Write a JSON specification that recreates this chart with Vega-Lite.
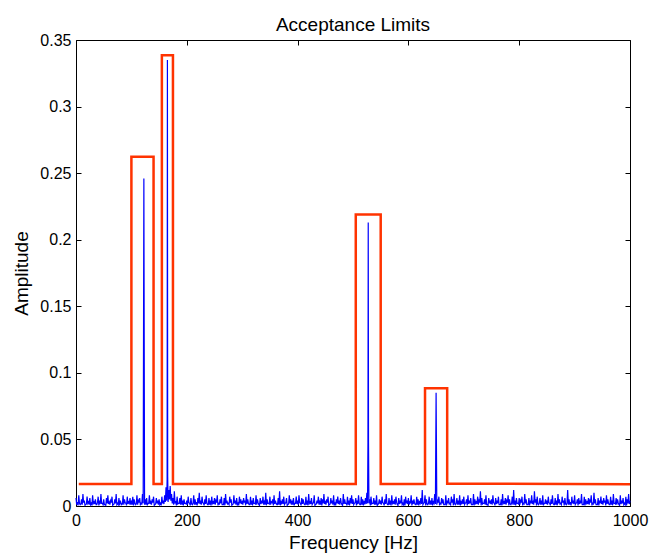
{
"$schema": "https://vega.github.io/schema/vega-lite/v6.json",
"width": 554, "height": 466,
"autosize": {"type": "none"},
"padding": {"left": 76, "top": 40, "right": 21, "bottom": 47},
"background": "white",
"title": {"text": "Acceptance Limits", "fontSize": 19, "font": "Liberation Sans", "fontWeight": "normal", "color": "black", "offset": 10, "baseline": "alphabetic", "anchor": "middle", "dy": 28},
"config": {
  "view": {"stroke": null},
  "axis": {"grid": false, "domainColor": "black", "tickColor": "black", "labelColor": "black", "titleColor": "black", "labelFont": "Liberation Sans", "titleFont": "Liberation Sans", "labelFontSize": 16, "titleFontSize": 19, "titleFontWeight": "normal", "tickSize": -5, "domainWidth": 1, "tickWidth": 1, "labelFlush": false, "labelOverlap": false}
},
"datasets": {
"spectrum": [
{"f":0,"a":0.006},{"f":1.25,"a":0.001},{"f":2.5,"a":0.003},{"f":3.75,"a":0.0005},{"f":5,"a":0.008},{"f":6.25,"a":0.002},{"f":7.5,"a":0.001},{"f":8.75,"a":0.0015},{"f":10,"a":0.005},{"f":11.25,"a":0.001},{"f":12.5,"a":0.009},{"f":13.75,"a":0.0025},{"f":15,"a":0.004},{"f":16.25,"a":0.0005},{"f":17.5,"a":0.001},{"f":18.75,"a":0.0015},{"f":20,"a":0.007},{"f":21.25,"a":0.002},{"f":22.5,"a":0.003},{"f":23.75,"a":0.001},{"f":25,"a":0.006},{"f":26.25,"a":0.001},{"f":27.5,"a":0.002},{"f":28.75,"a":0.0005},{"f":30,"a":0.008},{"f":31.25,"a":0.002},{"f":32.5,"a":0.003},{"f":33.75,"a":0.0015},{"f":35,"a":0.005},{"f":36.25,"a":0.001},{"f":37.5,"a":0.001},{"f":38.75,"a":0.0025},{"f":40,"a":0.007},{"f":41.25,"a":0.0005},{"f":42.5,"a":0.004},{"f":43.75,"a":0.0015},{"f":45,"a":0.009},{"f":46.25,"a":0.002},{"f":47.5,"a":0.002},{"f":48.75,"a":0.001},
{"f":50,"a":0.005},{"f":51.25,"a":0.001},{"f":52.5,"a":0.001},{"f":53.75,"a":0.0005},{"f":55,"a":0.006},{"f":56.25,"a":0.002},{"f":57.5,"a":0.008},{"f":58.75,"a":0.0015},{"f":60,"a":0.003},{"f":61.25,"a":0.001},{"f":62.5,"a":0.004},{"f":63.75,"a":0.0025},{"f":65,"a":0.007},{"f":66.25,"a":0.0005},{"f":67.5,"a":0.001},{"f":68.75,"a":0.0015},{"f":70,"a":0.005},{"f":71.25,"a":0.002},{"f":72.5,"a":0.009},{"f":73.75,"a":0.001},{"f":75,"a":0.002},{"f":76.25,"a":0.001},{"f":77.5,"a":0.006},{"f":78.75,"a":0.0005},{"f":80,"a":0.004},{"f":81.25,"a":0.002},{"f":82.5,"a":0.001},{"f":83.75,"a":0.0015},{"f":85,"a":0.008},{"f":86.25,"a":0.001},{"f":87.5,"a":0.005},{"f":88.75,"a":0.0025},{"f":90,"a":0.002},{"f":91.25,"a":0.0005},{"f":92.5,"a":0.007},{"f":93.75,"a":0.0015},{"f":95,"a":0.003},{"f":96.25,"a":0.002},{"f":97.5,"a":0.006},{"f":98.75,"a":0.001},
{"f":100,"a":0.003},{"f":101.25,"a":0.001},{"f":102.5,"a":0.007},{"f":103.75,"a":0.0005},{"f":105,"a":0.005},{"f":106.25,"a":0.002},{"f":107.5,"a":0.001},{"f":108.75,"a":0.0015},{"f":110,"a":0.008},{"f":111.25,"a":0.001},{"f":112.5,"a":0.004},{"f":113.75,"a":0.0025},{"f":115,"a":0.006},{"f":116.25,"a":0.0005},{"f":117.5,"a":0.002},{"f":118.75,"a":0.0015},{"f":120,"a":0.009},{"f":121.25,"a":0.002},{"f":122.5,"a":0.246},{"f":123.75,"a":0.001},{"f":125,"a":0.005},{"f":126.25,"a":0.001},{"f":127.5,"a":0.006},{"f":128.75,"a":0.0005},{"f":130,"a":0.002},{"f":131.25,"a":0.002},{"f":132.5,"a":0.008},{"f":133.75,"a":0.0015},{"f":135,"a":0.003},{"f":136.25,"a":0.001},{"f":137.5,"a":0.005},{"f":138.75,"a":0.0025},{"f":140,"a":0.007},{"f":141.25,"a":0.0005},{"f":142.5,"a":0.001},{"f":143.75,"a":0.0015},{"f":145,"a":0.006},{"f":146.25,"a":0.002},{"f":147.5,"a":0.004},{"f":148.75,"a":0.001},
{"f":150,"a":0.005},{"f":151.25,"a":0.001},{"f":152.5,"a":0.002},{"f":153.75,"a":0.0005},{"f":155,"a":0.007},{"f":156.25,"a":0.002},{"f":157.5,"a":0.004},{"f":158.75,"a":0.0015},{"f":160,"a":0.008},{"f":161.25,"a":0.003},{"f":162.5,"a":0.014},{"f":163.75,"a":0.004},{"f":164.5,"a":0.020},{"f":165,"a":0.335},{"f":165.5,"a":0.022},{"f":166.25,"a":0.003},{"f":167.5,"a":0.012},{"f":168.75,"a":0.005},{"f":170,"a":0.015},{"f":171.25,"a":0.004},{"f":172.5,"a":0.009},{"f":173.75,"a":0.002},{"f":175,"a":0.006},{"f":176.25,"a":0.001},{"f":177.5,"a":0.011},{"f":178.75,"a":0.0025},{"f":180,"a":0.003},{"f":181.25,"a":0.0005},{"f":182.5,"a":0.007},{"f":183.75,"a":0.0015},{"f":185,"a":0.002},{"f":186.25,"a":0.002},{"f":187.5,"a":0.006},{"f":188.75,"a":0.001},{"f":190,"a":0.008},{"f":191.25,"a":0.001},{"f":192.5,"a":0.004},{"f":193.75,"a":0.0005},{"f":195,"a":0.005},{"f":196.25,"a":0.002},{"f":197.5,"a":0.002},{"f":198.75,"a":0.0015},
{"f":200,"a":0.004},{"f":201.25,"a":0.001},{"f":202.5,"a":0.007},{"f":203.75,"a":0.0025},{"f":205,"a":0.002},{"f":206.25,"a":0.0005},{"f":207.5,"a":0.006},{"f":208.75,"a":0.0015},{"f":210,"a":0.001},{"f":211.25,"a":0.002},{"f":212.5,"a":0.008},{"f":213.75,"a":0.001},{"f":215,"a":0.005},{"f":216.25,"a":0.001},{"f":217.5,"a":0.003},{"f":218.75,"a":0.0005},{"f":220,"a":0.006},{"f":221.25,"a":0.002},{"f":222.5,"a":0.010},{"f":223.75,"a":0.0015},{"f":225,"a":0.004},{"f":226.25,"a":0.001},{"f":227.5,"a":0.007},{"f":228.75,"a":0.0025},{"f":230,"a":0.002},{"f":231.25,"a":0.0005},{"f":232.5,"a":0.005},{"f":233.75,"a":0.0015},{"f":235,"a":0.008},{"f":236.25,"a":0.002},{"f":237.5,"a":0.001},{"f":238.75,"a":0.001},{"f":240,"a":0.006},{"f":241.25,"a":0.001},{"f":242.5,"a":0.004},{"f":243.75,"a":0.0005},{"f":245,"a":0.007},{"f":246.25,"a":0.002},{"f":247.5,"a":0.003},{"f":248.75,"a":0.0015},
{"f":250,"a":0.006},{"f":251.25,"a":0.001},{"f":252.5,"a":0.004},{"f":253.75,"a":0.0025},{"f":255,"a":0.008},{"f":256.25,"a":0.0005},{"f":257.5,"a":0.002},{"f":258.75,"a":0.0015},{"f":260,"a":0.005},{"f":261.25,"a":0.002},{"f":262.5,"a":0.007},{"f":263.75,"a":0.001},{"f":265,"a":0.001},{"f":266.25,"a":0.001},{"f":267.5,"a":0.006},{"f":268.75,"a":0.0005},{"f":270,"a":0.009},{"f":271.25,"a":0.002},{"f":272.5,"a":0.004},{"f":273.75,"a":0.0015},{"f":275,"a":0.002},{"f":276.25,"a":0.001},{"f":277.5,"a":0.007},{"f":278.75,"a":0.0025},{"f":280,"a":0.005},{"f":281.25,"a":0.0005},{"f":282.5,"a":0.001},{"f":283.75,"a":0.0015},{"f":285,"a":0.008},{"f":286.25,"a":0.002},{"f":287.5,"a":0.004},{"f":288.75,"a":0.001},{"f":290,"a":0.006},{"f":291.25,"a":0.001},{"f":292.5,"a":0.002},{"f":293.75,"a":0.0005},{"f":295,"a":0.007},{"f":296.25,"a":0.002},{"f":297.5,"a":0.005},{"f":298.75,"a":0.0015},
{"f":300,"a":0.003},{"f":301.25,"a":0.001},{"f":302.5,"a":0.006},{"f":303.75,"a":0.0025},{"f":305,"a":0.004},{"f":306.25,"a":0.0005},{"f":307.5,"a":0.009},{"f":308.75,"a":0.0015},{"f":310,"a":0.005},{"f":311.25,"a":0.002},{"f":312.5,"a":0.001},{"f":313.75,"a":0.001},{"f":315,"a":0.007},{"f":316.25,"a":0.001},{"f":317.5,"a":0.004},{"f":318.75,"a":0.0005},{"f":320,"a":0.006},{"f":321.25,"a":0.002},{"f":322.5,"a":0.002},{"f":323.75,"a":0.0015},{"f":325,"a":0.008},{"f":326.25,"a":0.001},{"f":327.5,"a":0.005},{"f":328.75,"a":0.0025},{"f":330,"a":0.001},{"f":331.25,"a":0.0005},{"f":332.5,"a":0.006},{"f":333.75,"a":0.0015},{"f":335,"a":0.004},{"f":336.25,"a":0.002},{"f":337.5,"a":0.007},{"f":338.75,"a":0.001},{"f":340,"a":0.003},{"f":341.25,"a":0.001},{"f":342.5,"a":0.010},{"f":343.75,"a":0.0005},{"f":345,"a":0.005},{"f":346.25,"a":0.002},{"f":347.5,"a":0.002},{"f":348.75,"a":0.0015},
{"f":350,"a":0.007},{"f":351.25,"a":0.001},{"f":352.5,"a":0.003},{"f":353.75,"a":0.0025},{"f":355,"a":0.005},{"f":356.25,"a":0.0005},{"f":357.5,"a":0.008},{"f":358.75,"a":0.0015},{"f":360,"a":0.004},{"f":361.25,"a":0.002},{"f":362.5,"a":0.001},{"f":363.75,"a":0.001},{"f":365,"a":0.006},{"f":366.25,"a":0.001},{"f":367.5,"a":0.011},{"f":368.75,"a":0.0005},{"f":370,"a":0.003},{"f":371.25,"a":0.002},{"f":372.5,"a":0.005},{"f":373.75,"a":0.0015},{"f":375,"a":0.007},{"f":376.25,"a":0.001},{"f":377.5,"a":0.002},{"f":378.75,"a":0.0025},{"f":380,"a":0.006},{"f":381.25,"a":0.0005},{"f":382.5,"a":0.001},{"f":383.75,"a":0.0015},{"f":385,"a":0.008},{"f":386.25,"a":0.002},{"f":387.5,"a":0.005},{"f":388.75,"a":0.001},{"f":390,"a":0.003},{"f":391.25,"a":0.001},{"f":392.5,"a":0.006},{"f":393.75,"a":0.0005},{"f":395,"a":0.002},{"f":396.25,"a":0.002},{"f":397.5,"a":0.007},{"f":398.75,"a":0.0015},
{"f":400,"a":0.004},{"f":401.25,"a":0.001},{"f":402.5,"a":0.008},{"f":403.75,"a":0.0025},{"f":405,"a":0.002},{"f":406.25,"a":0.0005},{"f":407.5,"a":0.006},{"f":408.75,"a":0.0015},{"f":410,"a":0.005},{"f":411.25,"a":0.002},{"f":412.5,"a":0.001},{"f":413.75,"a":0.001},{"f":415,"a":0.007},{"f":416.25,"a":0.001},{"f":417.5,"a":0.004},{"f":418.75,"a":0.0005},{"f":420,"a":0.009},{"f":421.25,"a":0.002},{"f":422.5,"a":0.003},{"f":423.75,"a":0.0015},{"f":425,"a":0.006},{"f":426.25,"a":0.001},{"f":427.5,"a":0.002},{"f":428.75,"a":0.0025},{"f":430,"a":0.008},{"f":431.25,"a":0.0005},{"f":432.5,"a":0.001},{"f":433.75,"a":0.0015},{"f":435,"a":0.004},{"f":436.25,"a":0.002},{"f":437.5,"a":0.007},{"f":438.75,"a":0.001},{"f":440,"a":0.003},{"f":441.25,"a":0.001},{"f":442.5,"a":0.006},{"f":443.75,"a":0.0005},{"f":445,"a":0.005},{"f":446.25,"a":0.002},{"f":447.5,"a":0.009},{"f":448.75,"a":0.0015},
{"f":450,"a":0.003},{"f":451.25,"a":0.001},{"f":452.5,"a":0.005},{"f":453.75,"a":0.0025},{"f":455,"a":0.007},{"f":456.25,"a":0.0005},{"f":457.5,"a":0.001},{"f":458.75,"a":0.0015},{"f":460,"a":0.006},{"f":461.25,"a":0.002},{"f":462.5,"a":0.004},{"f":463.75,"a":0.001},{"f":465,"a":0.008},{"f":466.25,"a":0.001},{"f":467.5,"a":0.002},{"f":468.75,"a":0.0005},{"f":470,"a":0.005},{"f":471.25,"a":0.002},{"f":472.5,"a":0.007},{"f":473.75,"a":0.0015},{"f":475,"a":0.004},{"f":476.25,"a":0.001},{"f":477.5,"a":0.006},{"f":478.75,"a":0.0025},{"f":480,"a":0.001},{"f":481.25,"a":0.0005},{"f":482.5,"a":0.009},{"f":483.75,"a":0.0015},{"f":485,"a":0.005},{"f":486.25,"a":0.002},{"f":487.5,"a":0.002},{"f":488.75,"a":0.001},{"f":490,"a":0.007},{"f":491.25,"a":0.001},{"f":492.5,"a":0.004},{"f":493.75,"a":0.0005},{"f":495,"a":0.006},{"f":496.25,"a":0.002},{"f":497.5,"a":0.008},{"f":498.75,"a":0.0015},
{"f":500,"a":0.005},{"f":501.25,"a":0.001},{"f":502.5,"a":0.002},{"f":503.75,"a":0.0025},{"f":505,"a":0.006},{"f":506.25,"a":0.0005},{"f":507.5,"a":0.004},{"f":508.75,"a":0.0015},{"f":510,"a":0.008},{"f":511.25,"a":0.002},{"f":512.5,"a":0.001},{"f":513.75,"a":0.001},{"f":515,"a":0.007},{"f":516.25,"a":0.001},{"f":517.5,"a":0.005},{"f":518.75,"a":0.0005},{"f":520,"a":0.003},{"f":521.25,"a":0.002},{"f":522.5,"a":0.006},{"f":523.75,"a":0.0015},{"f":525,"a":0.010},{"f":526.25,"a":0.002},{"f":527,"a":0.048},{"f":527.5,"a":0.213},{"f":528,"a":0.048},{"f":528.75,"a":0.002},{"f":530,"a":0.005},{"f":531.25,"a":0.0005},{"f":532.5,"a":0.007},{"f":533.75,"a":0.0015},{"f":535,"a":0.002},{"f":536.25,"a":0.002},{"f":537.5,"a":0.006},{"f":538.75,"a":0.001},{"f":540,"a":0.004},{"f":541.25,"a":0.001},{"f":542.5,"a":0.008},{"f":543.75,"a":0.0005},{"f":545,"a":0.001},{"f":546.25,"a":0.002},{"f":547.5,"a":0.005},{"f":548.75,"a":0.0015},
{"f":550,"a":0.004},{"f":551.25,"a":0.001},{"f":552.5,"a":0.007},{"f":553.75,"a":0.0025},{"f":555,"a":0.002},{"f":556.25,"a":0.0005},{"f":557.5,"a":0.005},{"f":558.75,"a":0.0015},{"f":560,"a":0.009},{"f":561.25,"a":0.002},{"f":562.5,"a":0.001},{"f":563.75,"a":0.001},{"f":565,"a":0.006},{"f":566.25,"a":0.001},{"f":567.5,"a":0.004},{"f":568.75,"a":0.0005},{"f":570,"a":0.008},{"f":571.25,"a":0.002},{"f":572.5,"a":0.003},{"f":573.75,"a":0.0015},{"f":575,"a":0.005},{"f":576.25,"a":0.001},{"f":577.5,"a":0.007},{"f":578.75,"a":0.0025},{"f":580,"a":0.001},{"f":581.25,"a":0.0005},{"f":582.5,"a":0.006},{"f":583.75,"a":0.0015},{"f":585,"a":0.004},{"f":586.25,"a":0.002},{"f":587.5,"a":0.008},{"f":588.75,"a":0.001},{"f":590,"a":0.002},{"f":591.25,"a":0.001},{"f":592.5,"a":0.005},{"f":593.75,"a":0.0005},{"f":595,"a":0.007},{"f":596.25,"a":0.002},{"f":597.5,"a":0.004},{"f":598.75,"a":0.0015},
{"f":600,"a":0.006},{"f":601.25,"a":0.001},{"f":602.5,"a":0.003},{"f":603.75,"a":0.0025},{"f":605,"a":0.008},{"f":606.25,"a":0.0005},{"f":607.5,"a":0.004},{"f":608.75,"a":0.0015},{"f":610,"a":0.005},{"f":611.25,"a":0.002},{"f":612.5,"a":0.001},{"f":613.75,"a":0.001},{"f":615,"a":0.007},{"f":616.25,"a":0.001},{"f":617.5,"a":0.005},{"f":618.75,"a":0.0005},{"f":620,"a":0.003},{"f":621.25,"a":0.002},{"f":622.5,"a":0.006},{"f":623.75,"a":0.0015},{"f":625,"a":0.012},{"f":626.25,"a":0.001},{"f":627.5,"a":0.002},{"f":628.75,"a":0.0025},{"f":630,"a":0.008},{"f":631.25,"a":0.0005},{"f":632.5,"a":0.005},{"f":633.75,"a":0.0015},{"f":635,"a":0.001},{"f":636.25,"a":0.002},{"f":637.5,"a":0.007},{"f":638.75,"a":0.001},{"f":640,"a":0.004},{"f":641.25,"a":0.001},{"f":642.5,"a":0.006},{"f":643.75,"a":0.0005},{"f":645,"a":0.003},{"f":646.25,"a":0.002},{"f":647.5,"a":0.009},{"f":648.75,"a":0.0015},
{"f":650,"a":0.085},{"f":651.25,"a":0.001},{"f":652.5,"a":0.004},{"f":653.75,"a":0.0025},{"f":655,"a":0.007},{"f":656.25,"a":0.0005},{"f":657.5,"a":0.002},{"f":658.75,"a":0.0015},{"f":660,"a":0.006},{"f":661.25,"a":0.002},{"f":662.5,"a":0.005},{"f":663.75,"a":0.001},{"f":665,"a":0.001},{"f":666.25,"a":0.001},{"f":667.5,"a":0.008},{"f":668.75,"a":0.0005},{"f":670,"a":0.004},{"f":671.25,"a":0.002},{"f":672.5,"a":0.006},{"f":673.75,"a":0.0015},{"f":675,"a":0.002},{"f":676.25,"a":0.001},{"f":677.5,"a":0.007},{"f":678.75,"a":0.0025},{"f":680,"a":0.005},{"f":681.25,"a":0.0005},{"f":682.5,"a":0.009},{"f":683.75,"a":0.0015},{"f":685,"a":0.001},{"f":686.25,"a":0.002},{"f":687.5,"a":0.006},{"f":688.75,"a":0.001},{"f":690,"a":0.004},{"f":691.25,"a":0.001},{"f":692.5,"a":0.008},{"f":693.75,"a":0.0005},{"f":695,"a":0.003},{"f":696.25,"a":0.002},{"f":697.5,"a":0.005},{"f":698.75,"a":0.0015},
{"f":700,"a":0.007},{"f":701.25,"a":0.001},{"f":702.5,"a":0.002},{"f":703.75,"a":0.0025},{"f":705,"a":0.005},{"f":706.25,"a":0.0005},{"f":707.5,"a":0.008},{"f":708.75,"a":0.0015},{"f":710,"a":0.004},{"f":711.25,"a":0.002},{"f":712.5,"a":0.006},{"f":713.75,"a":0.001},{"f":715,"a":0.001},{"f":716.25,"a":0.001},{"f":717.5,"a":0.009},{"f":718.75,"a":0.0005},{"f":720,"a":0.005},{"f":721.25,"a":0.002},{"f":722.5,"a":0.003},{"f":723.75,"a":0.0015},{"f":725,"a":0.007},{"f":726.25,"a":0.001},{"f":727.5,"a":0.004},{"f":728.75,"a":0.0025},{"f":730,"a":0.011},{"f":731.25,"a":0.0005},{"f":732.5,"a":0.006},{"f":733.75,"a":0.0015},{"f":735,"a":0.002},{"f":736.25,"a":0.002},{"f":737.5,"a":0.005},{"f":738.75,"a":0.001},{"f":740,"a":0.008},{"f":741.25,"a":0.001},{"f":742.5,"a":0.001},{"f":743.75,"a":0.0005},{"f":745,"a":0.006},{"f":746.25,"a":0.002},{"f":747.5,"a":0.004},{"f":748.75,"a":0.0015},
{"f":750,"a":0.005},{"f":751.25,"a":0.001},{"f":752.5,"a":0.008},{"f":753.75,"a":0.0025},{"f":755,"a":0.002},{"f":756.25,"a":0.0005},{"f":757.5,"a":0.006},{"f":758.75,"a":0.0015},{"f":760,"a":0.004},{"f":761.25,"a":0.002},{"f":762.5,"a":0.007},{"f":763.75,"a":0.001},{"f":765,"a":0.001},{"f":766.25,"a":0.001},{"f":767.5,"a":0.005},{"f":768.75,"a":0.0005},{"f":770,"a":0.009},{"f":771.25,"a":0.002},{"f":772.5,"a":0.003},{"f":773.75,"a":0.0015},{"f":775,"a":0.006},{"f":776.25,"a":0.001},{"f":777.5,"a":0.004},{"f":778.75,"a":0.0025},{"f":780,"a":0.008},{"f":781.25,"a":0.0005},{"f":782.5,"a":0.005},{"f":783.75,"a":0.0015},{"f":785,"a":0.001},{"f":786.25,"a":0.002},{"f":787.5,"a":0.007},{"f":788.75,"a":0.001},{"f":790,"a":0.012},{"f":791.25,"a":0.001},{"f":792.5,"a":0.004},{"f":793.75,"a":0.0005},{"f":795,"a":0.006},{"f":796.25,"a":0.002},{"f":797.5,"a":0.002},{"f":798.75,"a":0.0015},
{"f":800,"a":0.006},{"f":801.25,"a":0.001},{"f":802.5,"a":0.004},{"f":803.75,"a":0.0025},{"f":805,"a":0.007},{"f":806.25,"a":0.0005},{"f":807.5,"a":0.002},{"f":808.75,"a":0.0015},{"f":810,"a":0.009},{"f":811.25,"a":0.002},{"f":812.5,"a":0.005},{"f":813.75,"a":0.001},{"f":815,"a":0.001},{"f":816.25,"a":0.001},{"f":817.5,"a":0.006},{"f":818.75,"a":0.0005},{"f":820,"a":0.004},{"f":821.25,"a":0.002},{"f":822.5,"a":0.008},{"f":823.75,"a":0.0015},{"f":825,"a":0.003},{"f":826.25,"a":0.001},{"f":827.5,"a":0.011},{"f":828.75,"a":0.0025},{"f":830,"a":0.005},{"f":831.25,"a":0.0005},{"f":832.5,"a":0.007},{"f":833.75,"a":0.0015},{"f":835,"a":0.001},{"f":836.25,"a":0.002},{"f":837.5,"a":0.006},{"f":838.75,"a":0.001},{"f":840,"a":0.004},{"f":841.25,"a":0.001},{"f":842.5,"a":0.008},{"f":843.75,"a":0.0005},{"f":845,"a":0.002},{"f":846.25,"a":0.002},{"f":847.5,"a":0.005},{"f":848.75,"a":0.0015},
{"f":850,"a":0.004},{"f":851.25,"a":0.001},{"f":852.5,"a":0.007},{"f":853.75,"a":0.0025},{"f":855,"a":0.002},{"f":856.25,"a":0.0005},{"f":857.5,"a":0.005},{"f":858.75,"a":0.0015},{"f":860,"a":0.008},{"f":861.25,"a":0.002},{"f":862.5,"a":0.001},{"f":863.75,"a":0.001},{"f":865,"a":0.006},{"f":866.25,"a":0.001},{"f":867.5,"a":0.004},{"f":868.75,"a":0.0005},{"f":870,"a":0.009},{"f":871.25,"a":0.002},{"f":872.5,"a":0.005},{"f":873.75,"a":0.0015},{"f":875,"a":0.002},{"f":876.25,"a":0.001},{"f":877.5,"a":0.007},{"f":878.75,"a":0.0025},{"f":880,"a":0.004},{"f":881.25,"a":0.0005},{"f":882.5,"a":0.006},{"f":883.75,"a":0.0015},{"f":885,"a":0.001},{"f":886.25,"a":0.002},{"f":887.5,"a":0.012},{"f":888.75,"a":0.001},{"f":890,"a":0.005},{"f":891.25,"a":0.001},{"f":892.5,"a":0.003},{"f":893.75,"a":0.0005},{"f":895,"a":0.007},{"f":896.25,"a":0.002},{"f":897.5,"a":0.004},{"f":898.75,"a":0.0015},
{"f":900,"a":0.008},{"f":901.25,"a":0.001},{"f":902.5,"a":0.002},{"f":903.75,"a":0.0025},{"f":905,"a":0.005},{"f":906.25,"a":0.0005},{"f":907.5,"a":0.006},{"f":908.75,"a":0.0015},{"f":910,"a":0.004},{"f":911.25,"a":0.002},{"f":912.5,"a":0.009},{"f":913.75,"a":0.001},{"f":915,"a":0.001},{"f":916.25,"a":0.001},{"f":917.5,"a":0.007},{"f":918.75,"a":0.0005},{"f":920,"a":0.005},{"f":921.25,"a":0.002},{"f":922.5,"a":0.003},{"f":923.75,"a":0.0015},{"f":925,"a":0.006},{"f":926.25,"a":0.001},{"f":927.5,"a":0.004},{"f":928.75,"a":0.0025},{"f":930,"a":0.008},{"f":931.25,"a":0.0005},{"f":932.5,"a":0.002},{"f":933.75,"a":0.0015},{"f":935,"a":0.010},{"f":936.25,"a":0.002},{"f":937.5,"a":0.005},{"f":938.75,"a":0.001},{"f":940,"a":0.001},{"f":941.25,"a":0.001},{"f":942.5,"a":0.006},{"f":943.75,"a":0.0005},{"f":945,"a":0.004},{"f":946.25,"a":0.002},{"f":947.5,"a":0.007},{"f":948.75,"a":0.0015},
{"f":950,"a":0.003},{"f":951.25,"a":0.001},{"f":952.5,"a":0.006},{"f":953.75,"a":0.0025},{"f":955,"a":0.004},{"f":956.25,"a":0.0005},{"f":957.5,"a":0.008},{"f":958.75,"a":0.0015},{"f":960,"a":0.005},{"f":961.25,"a":0.002},{"f":962.5,"a":0.001},{"f":963.75,"a":0.001},{"f":965,"a":0.007},{"f":966.25,"a":0.001},{"f":967.5,"a":0.004},{"f":968.75,"a":0.0005},{"f":970,"a":0.009},{"f":971.25,"a":0.002},{"f":972.5,"a":0.002},{"f":973.75,"a":0.0015},{"f":975,"a":0.006},{"f":976.25,"a":0.001},{"f":977.5,"a":0.005},{"f":978.75,"a":0.0025},{"f":980,"a":0.001},{"f":981.25,"a":0.0005},{"f":982.5,"a":0.008},{"f":983.75,"a":0.0015},{"f":985,"a":0.004},{"f":986.25,"a":0.002},{"f":987.5,"a":0.006},{"f":988.75,"a":0.001},{"f":990,"a":0.002},{"f":991.25,"a":0.001},{"f":992.5,"a":0.007},{"f":993.75,"a":0.0005},{"f":995,"a":0.005},{"f":996.25,"a":0.002},{"f":997.5,"a":0.009},{"f":998.75,"a":0.0015},
{"f":1000,"a":0.004}
],
"limits": [
{"i":0,"f":5,"a":0.0165},{"i":1,"f":100,"a":0.0165},{"i":2,"f":100,"a":0.2623},{"i":3,"f":140,"a":0.2623},{"i":4,"f":140,"a":0.0165},{"i":5,"f":155,"a":0.0165},{"i":6,"f":155,"a":0.3385},{"i":7,"f":175,"a":0.3385},{"i":8,"f":175,"a":0.0165},{"i":9,"f":505,"a":0.0165},{"i":10,"f":505,"a":0.219},{"i":11,"f":550,"a":0.219},{"i":12,"f":550,"a":0.0165},{"i":13,"f":630,"a":0.0165},{"i":14,"f":630,"a":0.0884},{"i":15,"f":670,"a":0.0884},{"i":16,"f":670,"a":0.0168},{"i":17,"f":1000,"a":0.0163}
]
},
"layer": [
{
  "data": {"name": "spectrum"},
  "mark": {"type": "line", "color": "#0000ff", "strokeWidth": 1.2},
  "encoding": {
    "x": {"field": "f", "type": "quantitative", "scale": {"domain": [0, 1000], "nice": false, "zero": false},
      "axis": {"orient": "top", "labels": false, "title": null, "values": [0, 200, 400, 600, 800, 1000]}},
    "y": {"field": "a", "type": "quantitative", "scale": {"domain": [0, 0.35], "nice": false},
      "axis": {"orient": "right", "labels": false, "title": null, "values": [0, 0.05, 0.1, 0.15, 0.2, 0.25, 0.3, 0.35]}}
  }
},
{
  "data": {"name": "limits"},
  "mark": {"type": "line", "color": "#ff3300", "strokeWidth": 2.5, "strokeJoin": "miter"},
  "encoding": {
    "x": {"field": "f", "type": "quantitative", "scale": {"domain": [0, 1000], "nice": false, "zero": false},
      "axis": {"orient": "bottom", "title": "Frequency [Hz]", "values": [0, 200, 400, 600, 800, 1000], "format": "d", "labelPadding": 11, "titleX": 277, "titleY": 42, "titleBaseline": "alphabetic", "titleAlign": "center"}},
    "y": {"field": "a", "type": "quantitative", "scale": {"domain": [0, 0.35], "nice": false},
      "axis": {"orient": "left", "title": "Amplitude", "values": [0, 0.05, 0.1, 0.15, 0.2, 0.25, 0.3, 0.35], "format": "~g", "labelPadding": 10, "titleX": -49, "titleY": 233, "titleBaseline": "alphabetic", "titleAlign": "center", "titleAngle": -90}},
    "order": {"field": "i", "type": "quantitative"}
  }
}
],
"resolve": {"axis": {"x": "independent", "y": "independent"}}
}
